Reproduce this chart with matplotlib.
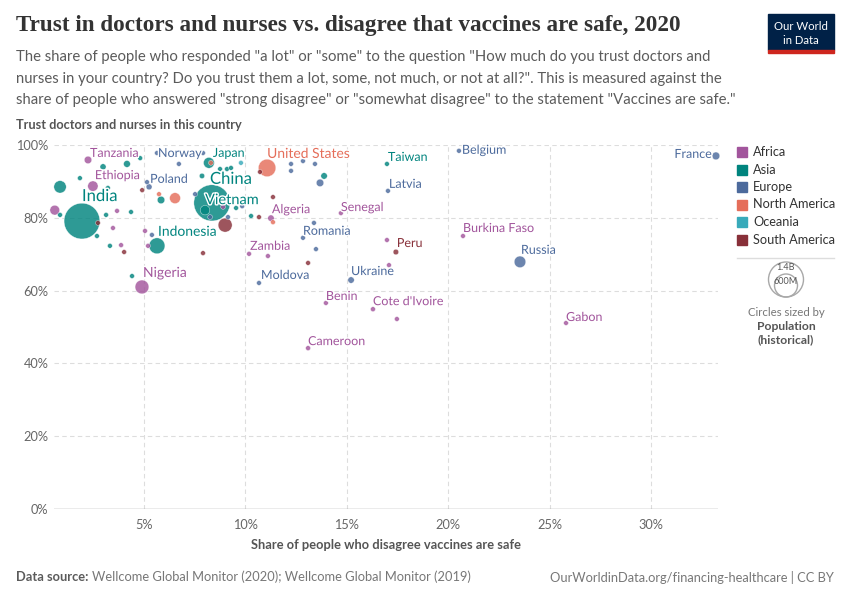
import numpy as np
import matplotlib
matplotlib.use("Agg")
import matplotlib.pyplot as plt
from matplotlib.patches import Rectangle, Circle
import matplotlib.patheffects as pe

plt.rcParams['font.family'] = ['Lato', 'DejaVu Sans']

# Data (shares in %, population in millions)
countries = ["India", "China", "Indonesia", "Brazil", "Nigeria", "Bangladesh",
             "United States", "Russia", "Mexico", "Japan", "Ethiopia", "Egypt",
             "Vietnam", "Tanzania", "Algeria", "Ukraine", "Poland", "France",
             "Peru", "Cameroon", "Cote d'Ivoire", "Taiwan", "Burkina Faso",
             "Romania", "Zambia", "Senegal", "Benin", "Belgium", "Norway",
             "Moldova", "Gabon", "Latvia"] + [""] * 56
continents = ["Asia", "Asia", "Asia", "South America", "Africa", "Asia",
              "North America", "Europe", "North America", "Asia", "Africa", "Africa",
              "Asia", "Africa", "Africa", "Europe", "Europe", "Europe",
              "South America", "Africa", "Africa", "Asia", "Africa",
              "Europe", "Africa", "Africa", "Africa", "Europe", "Europe",
              "Europe", "Africa", "Europe",
              # unlabeled points
              "Asia", "Asia", "Asia", "Asia", "Asia", "Asia", "Asia", "Asia",
              "Asia", "Asia", "Asia", "Asia", "Asia", "Asia", "Asia", "Asia",
              "Asia", "Asia", "Asia", "Oceania",
              "Europe", "Europe", "Europe", "Europe", "Europe",
              "Europe", "Europe", "Europe", "Europe", "Europe",
              "Europe", "Europe", "Europe", "Europe", "Europe",
              "Africa", "Africa", "Africa", "Africa", "Africa",
              "Africa", "Africa", "Africa", "Africa", "Africa",
              "South America", "South America", "South America", "South America",
              "South America", "South America", "South America", "South America",
              "North America", "North America", "North America"]
disagree = [1.94, 8.35, 5.64, 9.0, 4.9, 0.86,
            11.07, 23.54, 6.53, 8.2, 2.48, 0.6,
            8.01, 2.24, 11.26, 15.21, 5.25, 33.2,
            17.42, 13.09, 16.29, 16.98, 20.73,
            12.84, 10.18, 14.71, 13.97, 20.53, 5.64,
            10.67, 25.81, 17.03,
            2.98, 4.16, 4.81, 1.84, 3.22, 0.86, 3.13, 4.36,
            2.68, 3.32, 4.41, 5.84, 7.86, 8.75, 9.09, 9.29,
            9.54, 10.28, 13.88, 9.78,
            6.72, 7.91, 5.15, 7.52, 8.26,
            9.14, 9.84, 12.25, 12.25, 12.84,
            13.43, 13.68, 13.38, 13.48, 5.39,
            3.47, 3.67, 3.87, 5.05, 5.2,
            8.9, 11.11, 16.98, 17.08, 17.47,
            2.73, 4.02, 4.91, 7.91,
            10.67, 10.72, 11.36, 13.09,
            8.3, 5.74, 11.36]
trust = [79.1, 84.1, 72.3, 78.0, 61.0, 88.5,
         93.7, 67.9, 85.4, 95.1, 88.7, 82.1,
         82.1, 95.9, 79.9, 62.9, 88.5, 97.0,
         70.6, 44.2, 54.9, 94.8, 75.0,
         74.5, 70.1, 81.3, 56.6, 98.4, 97.8,
         62.1, 51.1, 87.4,
         94.0, 94.8, 96.4, 90.9, 88.2, 80.8, 80.8, 81.6,
         75.0, 72.3, 64.0, 84.9, 91.5, 93.4, 93.4, 93.7,
         82.7, 80.5, 91.5, 95.1,
         94.8, 97.8, 89.8, 86.5, 80.2,
         80.2, 83.2, 94.8, 92.9, 95.6,
         94.8, 89.6, 78.6, 71.4, 75.3,
         77.2, 81.9, 72.5, 76.4, 72.3,
         83.0, 69.5, 73.9, 67.0, 52.2,
         78.6, 70.6, 87.6, 70.3,
         80.2, 92.6, 85.7, 67.6,
         95.1, 86.5, 78.8]
population = [1380, 1410, 273, 212, 206, 165,
              331, 144, 128, 126, 115, 102,
              97, 60, 44, 44, 38, 65,
              33, 26, 26, 24, 21,
              19, 18, 17, 12, 11.5, 5.4,
              2.6, 2.2, 1.9,
              40, 50, 8, 8, 8, 6, 8, 8,
              10, 8, 20, 60, 30, 8, 8, 8,
              8, 8, 45, 5,
              5, 5, 5, 5, 5,
              8, 5, 10, 10, 10,
              8, 60, 8, 8, 5,
              12, 5, 12, 5, 25,
              10, 6, 6, 6, 6,
              8, 10, 10, 5,
              18, 5, 5, 6,
              8, 8, 5]

continent_names = ["Africa", "Asia", "Europe", "North America", "Oceania", "South America"]
continent_colors = ["#a2559c", "#00847e", "#4c6a9c", "#e56e5a", "#38aaba", "#883039"]
x_ticks = [5, 10, 15, 20, 25, 30]
y_ticks = [0, 20, 40, 60, 80, 100]

# label placement: (dx px, dy px, ha, font size pt)
label_style = {
    "France": (-4, 2, "right", 9), "Belgium": (3, 1, "left", 9),
    "Taiwan": (1, 7, "left", 9), "Latvia": (1, 7, "left", 9),
    "Senegal": (0, 6, "left", 9), "Burkina Faso": (0, 8, "left", 9),
    "Russia": (1, 12, "left", 9), "Peru": (1, 9, "left", 9),
    "Ukraine": (0, 9, "left", 9), "Cote d'Ivoire": (0, 8, "left", 9),
    "Gabon": (0, 6, "left", 9), "Cameroon": (0, 7, "left", 9),
    "Benin": (0, 7, "left", 9), "Moldova": (2, 8, "left", 9),
    "Zambia": (1, 8, "left", 9), "Romania": (0, 7, "left", 9),
    "Algeria": (1, 9, "left", 9), "United States": (0, 14, "left", 10),
    "Japan": (4, 10, "left", 9), "Norway": (1, 0, "left", 9),
    "Poland": (1, 8, "left", 9), "Tanzania": (2, 7, "left", 9),
    "Ethiopia": (2, 11, "left", 9), "India": (0, 25, "left", 12),
    "China": (-2, 24, "left", 12), "Vietnam": (0, 10, "left", 10.5),
    "Indonesia": (1, 14, "left", 10), "Nigeria": (1, 14, "left", 10),
}

col_of = dict(zip(continent_names, continent_colors))
x = np.array(disagree)
y = np.array(trust)
pop = np.array(population, dtype=float)
cols = [col_of[c] for c in continents]
r_px = np.maximum(18 * np.sqrt(pop / 1400), 2.4)
sizes = (2 * r_px * 0.72) ** 2

fig = plt.figure(figsize=(8.5, 6), dpi=100)
ax = fig.add_axes([54 / 850, 91 / 600, 664 / 850, 364 / 600])
ax.set_xlim((54 - 42.6) / 20.28, (718 - 42.6) / 20.28)
ax.set_ylim(0, 100)

for t in x_ticks:
    ax.axvline(t, color="#dddddd", lw=0.8, ls=(0, (4, 3)), zorder=0)
for t in y_ticks[1:]:
    ax.axhline(t, color="#dddddd", lw=0.8, ls=(0, (4, 3)), zorder=0)
ax.axhline(0, color="#999999", lw=1, zorder=1)

order = np.argsort(-pop)
ax.scatter(x[order], y[order], s=sizes[order], c=[cols[i] for i in order],
           alpha=0.82, edgecolors="white", linewidths=0.3, zorder=2, clip_on=False)

for i, name in enumerate(countries):
    if name in label_style:
        dx, dy, ha, fs = label_style[name]
        ax.annotate(name, (x[i], y[i]), xytext=(dx * 0.72, dy * 0.72),
                    textcoords="offset points", ha=ha, va="center",
                    color=cols[i], fontsize=fs, zorder=3,
                    path_effects=[pe.withStroke(linewidth=2, foreground="white")])

for s in ax.spines.values():
    s.set_visible(False)
ax.set_xticks(x_ticks)
ax.set_xticklabels([f"{t}%" for t in x_ticks])
ax.set_yticks(y_ticks)
ax.set_yticklabels([f"{t}%" for t in y_ticks])
ax.tick_params(length=0, labelsize=9.2, labelcolor="#666666", pad=4)
ax.tick_params(axis="x", pad=7)

# overlay in pixel coordinates for text and legends
ov = fig.add_axes([0, 0, 1, 1], zorder=5)
ov.set_xlim(0, 850)
ov.set_ylim(600, 0)
ov.axis("off")

ov.text(16, 25, "Trust in doctors and nurses vs. disagree that vaccines are safe, 2020",
        family="Liberation Serif", fontsize=16.7, weight="bold", color="#333333", va="center")
subtitle = ['The share of people who responded "a lot" or "some" to the question "How much do you trust doctors and',
            'nurses in your country? Do you trust them a lot, some, not much, or not at all?". This is measured against the',
            'share of people who answered "strong disagree" or "somewhat disagree" to the statement "Vaccines are safe."']
for k, line in enumerate(subtitle):
    ov.text(16, 57 + k * 21.5, line, fontsize=10.75, color="#5b5b5b", va="center")

ov.text(16, 125, "Trust doctors and nurses in this country", fontsize=9.2,
        color="#555555", weight="bold", va="center")
ov.text(386, 545, "Share of people who disagree vaccines are safe", fontsize=9.3,
        color="#555555", weight="bold", va="center", ha="center")

# logo
ov.add_patch(Rectangle((768, 14), 66, 36, color="#002147"))
ov.add_patch(Rectangle((768, 50), 66, 3, color="#ce261e"))
ov.text(801, 26, "Our World", color="white", fontsize=8.2, ha="center", va="center")
ov.text(801, 40, "in Data", color="white", fontsize=8.2, ha="center", va="center")

# continent legend
for k, (nm, cl) in enumerate(zip(continent_names, continent_colors)):
    yc = 152 + k * 17.5
    ov.add_patch(Rectangle((737, yc - 5), 10, 10, color=cl))
    ov.text(753, yc, nm, fontsize=9.2, color="#333333", va="center")
ov.plot([737, 834], [258, 258], color="#dddddd", lw=1)

# size legend
ov.add_patch(Circle((786, 279.5), 17.5, fill=False, ec="#a8a8a8", lw=1))
ov.add_patch(Circle((786, 285.5), 11.5, fill=False, ec="#a8a8a8", lw=1))
ov.text(786, 268, "1.4B", fontsize=6.5, color="#555555", ha="center", va="center")
ov.text(786, 281, "600M", fontsize=6.5, color="#555555", ha="center", va="center")
ov.text(786, 313, "Circles sized by", fontsize=8.2, color="#777777", ha="center", va="center")
ov.text(786, 327, "Population", fontsize=8.7, color="#555555", weight="bold", ha="center", va="center")
ov.text(786, 340, "(historical)", fontsize=8.7, color="#555555", weight="bold", ha="center", va="center")

# footer
fig.canvas.draw()
rend = fig.canvas.get_renderer()
src = ov.text(16, 577, "Data source:", fontsize=9.3, color="#5b5b5b", weight="bold", va="center")
bb = src.get_window_extent(renderer=rend)
ov.text(16 + bb.width + 4, 577, "Wellcome Global Monitor (2020); Wellcome Global Monitor (2019)",
        fontsize=9.3, color="#777777", va="center")
ov.text(834, 577, "OurWorldinData.org/financing-healthcare | CC BY", fontsize=9.3,
        color="#777777", va="center", ha="right")

fig.savefig("out.png", dpi=100)
